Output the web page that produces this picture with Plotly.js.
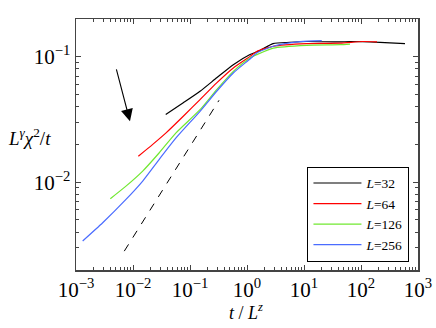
<!DOCTYPE html>
<html>
<head>
<meta charset="utf-8">
<script src="https://cdn.plot.ly/plotly-3.0.1.min.js"></script>
<style>
  body { margin: 0; background: #fff; }
  #plot { width: 436px; height: 328px; }
</style>
</head>
<body>
<div id="plot"></div>
<script>
// Values (t/L^z, L^gamma chi^2/t)
const x32 = [0.0375, 0.0762, 0.150, 0.294, 0.575, 1.13, 1.69, 2.86, 5.68, 11.1, 42.9, 64.1, 215, 592];
const y32 = [0.0346, 0.0429, 0.0530, 0.0678, 0.0863, 0.104, 0.112, 0.127, 0.130, 0.132, 0.131, 0.132, 0.130, 0.127];

const x64 = [0.0124, 0.0222, 0.0380, 0.0762, 0.150, 0.294, 0.575, 1.13, 1.48, 2.89, 11.1, 42.9, 108, 191];
const y64 = [0.0161, 0.0200, 0.0247, 0.0335, 0.0455, 0.0618, 0.0813, 0.1005, 0.110, 0.121, 0.127, 0.128, 0.132, 0.131];

const x126 = [0.0040, 0.00753, 0.0148, 0.0289, 0.0568, 0.150, 0.294, 0.575, 1.13, 1.48, 2.89, 11.1, 42.9, 64.1];
const y126 = [0.00738, 0.00929, 0.01225, 0.01715, 0.0247, 0.0378, 0.0546, 0.0764, 0.0977, 0.1037, 0.117, 0.123, 0.1245, 0.126];

const x256 = [0.00131, 0.00294, 0.00753, 0.0148, 0.0289, 0.0568, 0.150, 0.294, 0.575, 1.13, 1.48, 2.89, 8.51, 20.5];
const y256 = [0.00340, 0.00475, 0.00728, 0.0102, 0.0152, 0.0225, 0.0367, 0.0530, 0.0741, 0.0959, 0.107, 0.121, 0.1315, 0.134];

// dashed guide line
const xGuide = [0.00703, 0.323];
const yGuide = [0.00282, 0.0449];

// tick labels
const xTickVals = [1e-3, 1e-2, 1e-1, 1, 10, 100, 1000];
const xTickText = ['10<sup>−3</sup>', '10<sup>−2</sup>', '10<sup>−1</sup>', '10<sup>0</sup>', '10<sup>1</sup>', '10<sup>2</sup>', '10<sup>3</sup>'];
const yTickVals = [1e-2, 1e-1];
const yTickText = ['10<sup>−2</sup>', '10<sup>−1</sup>'];

const serif = 'Liberation Serif';

function series(x, y, name, color) {
  return {
    x: x, y: y, name: name, type: 'scatter', mode: 'lines',
    line: { color: color, width: 1.2, shape: 'spline', smoothing: 0.6 },
  };
}

const traces = [
  series(x32, y32, '<i>L</i>=32', '#000000'),
  series(x64, y64, '<i>L</i>=64', '#ff0000'),
  series(x126, y126, '<i>L</i>=126', '#70e830'),
  series(x256, y256, '<i>L</i>=256', '#4a6cff'),
  {
    x: xGuide, y: yGuide, type: 'scatter', mode: 'lines', showlegend: false,
    line: { color: '#000000', width: 1, dash: '8px,8px' },
  },
];

const axisCommon = {
  type: 'log',
  tickmode: 'array',
  showgrid: false,
  zeroline: false,
  showline: true,
  linecolor: '#444',
  linewidth: 1.5,
  mirror: 'ticks',
  ticks: 'inside',
  ticklen: 5,
  tickcolor: '#444',
  ticklabeloverflow: 'allow',
  tickfont: { family: serif, size: 21, color: '#000' },
  minor: { ticks: 'inside', ticklen: 3, tickcolor: '#444', dtick: 'D1', showgrid: false },
};

const layout = {
  width: 436,
  height: 328,
  margin: { l: 76, r: 18, t: 19, b: 58 },
  paper_bgcolor: '#fff',
  plot_bgcolor: '#fff',
  font: { family: serif, color: '#000' },
  showlegend: true,
  legend: {
    x: 0.975, y: 0.033, xanchor: 'right', yanchor: 'bottom',
    bgcolor: '#fff', bordercolor: '#000', borderwidth: 1,
    itemwidth: 48,
    font: { family: serif, size: 13.5, color: '#000' },
  },
  xaxis: Object.assign({}, axisCommon, { range: [-3, 3], tickvals: xTickVals, ticktext: xTickText }),
  yaxis: Object.assign({}, axisCommon, { range: [-2.7, -0.7], tickvals: yTickVals, ticktext: yTickText }),
  annotations: [
    {
      // arrow pointing toward larger L
      x: -2.053, y: -1.515, ax: -2.298, ay: -1.090,
      xref: 'x', yref: 'y', axref: 'x', ayref: 'y',
      showarrow: true, arrowhead: 2, arrowsize: 2.2, arrowwidth: 1.1, arrowcolor: '#000', text: '',
    },
    {
      text: '<i>L</i><sup><i>γ</i></sup><i>χ</i><sup>2</sup>/<i>t</i>',
      xref: 'paper', yref: 'paper', x: -0.205, y: 0.531,
      xanchor: 'left', yanchor: 'middle', showarrow: false,
      font: { family: serif, size: 19, color: '#000' },
    },
    {
      text: '<i>t</i> / <i>L</i><sup><i>z</i></sup>',
      xref: 'paper', yref: 'paper', x: 0.4985, y: -0.166,
      xanchor: 'center', yanchor: 'middle', showarrow: false,
      font: { family: serif, size: 18, color: '#000' },
    },
  ],
};

Plotly.newPlot('plot', traces, layout, { displayModeBar: false, staticPlot: true });
</script>
</body>
</html>
